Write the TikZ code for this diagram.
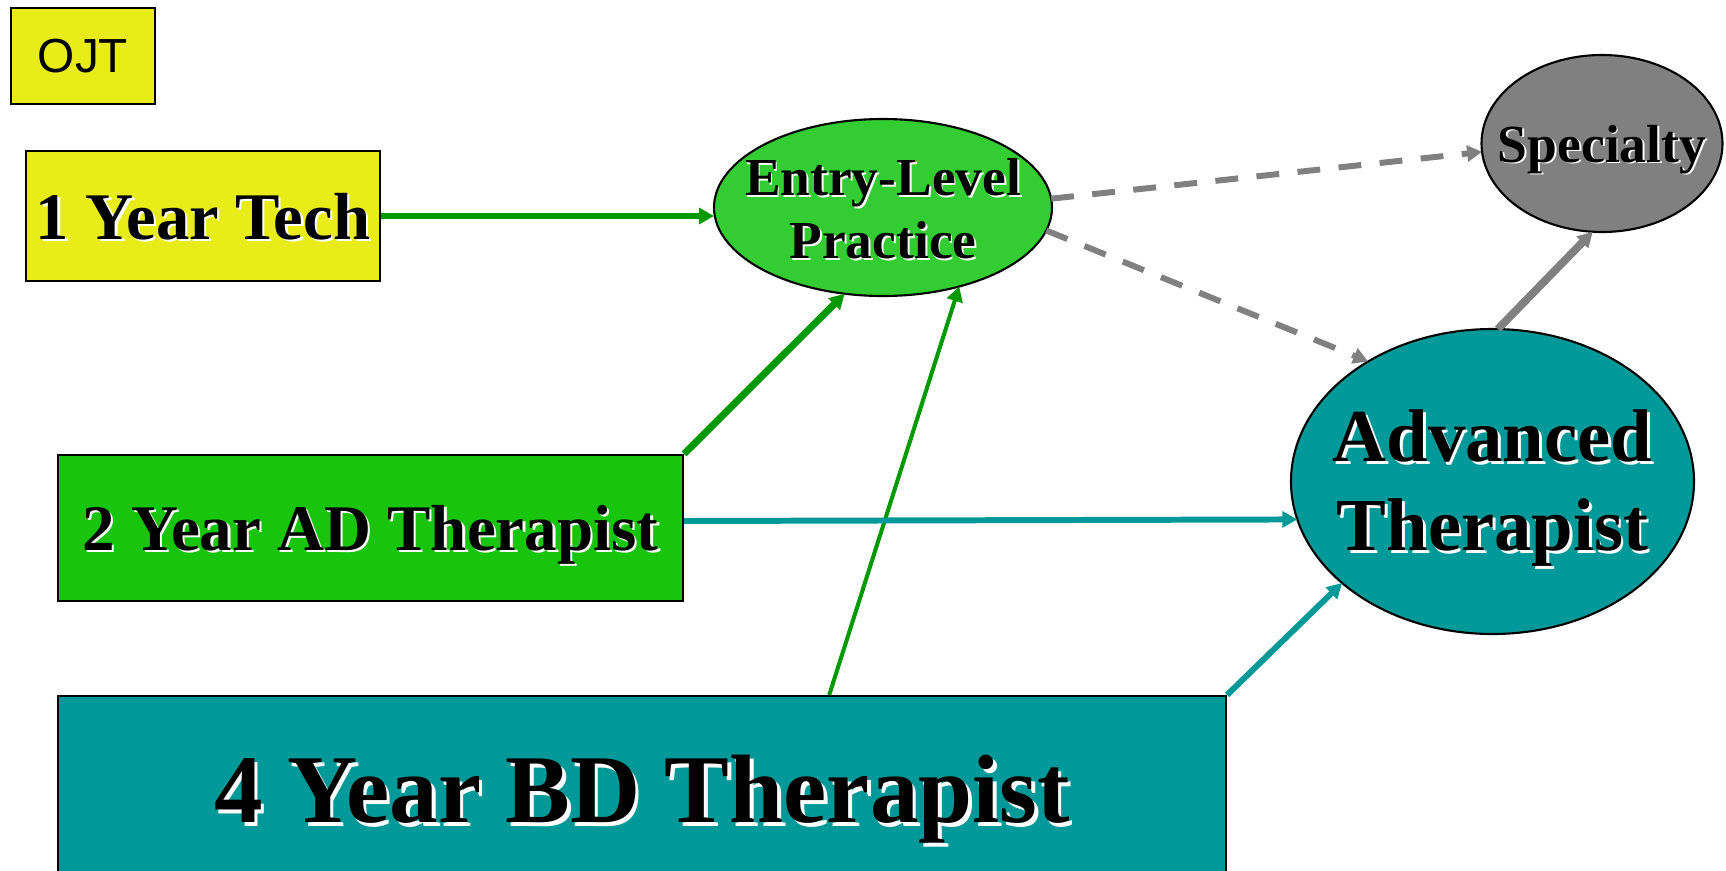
\documentclass[tikz,border=0pt]{standalone}
\usepackage{fontspec}
\setmainfont{Liberation Serif}
\newfontfamily\ojtfont{Liberation Sans}
\usepackage{tikz}
\usetikzlibrary{arrows.meta,positioning,calc,shapes.geometric}

\definecolor{techyellow}{RGB}{232,236,24}
\definecolor{adgreen}{RGB}{24,196,12}
\definecolor{entrygreen}{RGB}{51,204,51}
\definecolor{bdteal}{RGB}{0,153,153}
\definecolor{arrowgreen}{RGB}{0,153,0}
\definecolor{linegrey}{RGB}{128,128,128}

% black text with a white drop shadow
\newcommand{\shtxt}[1]{\rlap{\kern0.035em\raisebox{-0.035em}{\color{white}#1}}#1}

\begin{document}
\begin{tikzpicture}[
			box/.style={rectangle,draw=black,line width=1.2pt,inner sep=0pt,text depth=0pt},
			oval/.style={ellipse,draw=black,line width=1.2pt,inner sep=0pt,outer sep=0pt},
			txt/.style={font=\bfseries\fontsize{37pt}{44pt}\selectfont,align=center,inner sep=0pt},
			link/.style={line width=3.4pt,-{Triangle[length=8.5pt,width=9pt]}},
			dlink/.style={link,color=linegrey,dash pattern=on 13pt off 10.5pt}]
		\useasboundingbox (0,0) rectangle (34.52,-17.4);
		\path 	(1.66,-1.12) 	node 	(ojt) [box, fill=techyellow, minimum width=2.88cm, minimum height=1.92cm, font=\ojtfont\fontsize{27.2pt}{32pt}\selectfont] {OJT}
		        (4.06,-4.32) 	node 	(tech) [box, txt, fill=techyellow, minimum width=7.08cm, minimum height=2.6cm, font=\bfseries\fontsize{37.9pt}{45pt}\selectfont] {\shtxt{1 Year Tech}}
		        (7.41,-10.56) 	node 	(ad) [box, txt, fill=adgreen, minimum width=12.5cm, minimum height=2.92cm] {\shtxt{2 Year AD Therapist}}
		        (12.84,-15.78) 	node 	(bd) [box, txt, fill=bdteal, minimum width=23.36cm, minimum height=3.72cm, font=\bfseries\fontsize{55.3pt}{66pt}\selectfont] {\shtxt{4 Year BD Therapist}}
		        (17.66,-4.15) 	node 	(entry) [oval, fill=entrygreen, minimum width=6.76cm, minimum height=3.54cm,
		        	label={[txt, yshift=-0.05cm, font=\bfseries\fontsize{30.4pt}{35.7pt}\selectfont]center:{\shtxt{Entry-Level}\\\shtxt{Practice}}} ] {}
		        (32.04,-2.87) 	node 	(spec) [oval, fill=linegrey, minimum width=4.82cm, minimum height=3.54cm,
		        	label={[txt, text depth=0pt, font=\bfseries\fontsize{30.5pt}{36pt}\selectfont]center:{\shtxt{Specialty}}} ] {}
		        (29.85,-9.63) 	node 	(adv) [oval, fill=bdteal, minimum width=8.06cm, minimum height=6.1cm,
		        	label={[txt, yshift=-0.16cm, font=\bfseries\fontsize{42.5pt}{50.5pt}\selectfont]center:{\shtxt{Advanced}\hspace{0.25em}\\\shtxt{Therapist}}} ] {};
		\draw [link, arrowgreen] (tech.east) -- (tech.east -| entry.west);
		\draw [link, arrowgreen, line width=4pt] (ad.north east) -- (entry.246);
		\draw [link, arrowgreen, line width=2.3pt] ($(bd.north west)!0.66!(bd.north east)$) -- (entry.314);
		\draw [link, bdteal] ([yshift=0.14cm]ad.east) -- (adv.191.5);
		\draw [link, bdteal] (bd.north east) -- (adv.214);
		\draw [dlink] (entry.3) -- (spec.184);
		\draw [dlink] (entry.352) -- (adv.136);
		\draw [link, linegrey, line width=4.5pt] (adv.88) -- (spec.264);
	\end{tikzpicture}
\end{document}
